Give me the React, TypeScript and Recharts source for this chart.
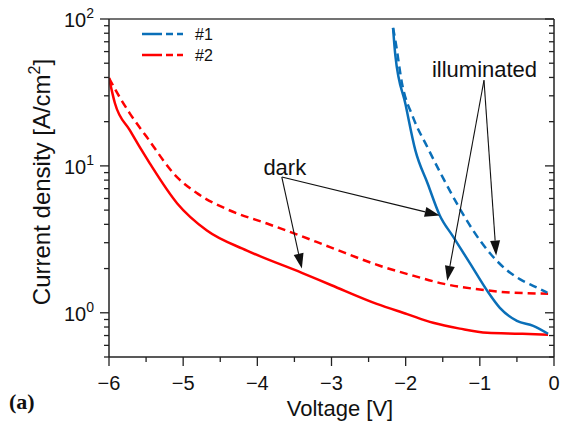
import React from "react";
import {
  LineChart,
  Line,
  XAxis,
  YAxis,
  Legend,
  ReferenceLine,
  ReferenceDot,
} from "recharts";

// #1 dark (solid blue)
const V_1_DARK = [-2.17, -2.14, -2.0, -1.87, -1.7, -1.54, -1.36, -1.13, -0.9, -0.73, -0.5, -0.28, -0.08];
const J_1_DARK = [87, 57, 26, 12.8, 7.5, 4.6, 3.3, 2.16, 1.41, 1.08, 0.88, 0.815, 0.72];

// #1 illuminated (dashed blue)
const V_1_ILL = [-2.17, -2.14, -2.05, -1.9, -1.7, -1.5, -1.31, -1.09, -0.86, -0.63, -0.42, -0.25, -0.09];
const J_1_ILL = [87, 72, 36.6, 21.4, 13.2, 8.35, 5.55, 3.63, 2.53, 1.94, 1.65, 1.5, 1.37];

// #2 dark (solid red)
const V_2_DARK = [-6, -5.92, -5.72, -5.45, -5.08, -4.68, -4.14, -3.4, -3.0, -2.39, -1.98, -1.63, -1.27, -0.9, -0.46, -0.08];
const J_2_DARK = [39.6, 26.7, 17.5, 10.4, 5.55, 3.63, 2.65, 1.87, 1.54, 1.15, 0.98, 0.855, 0.78, 0.73, 0.72, 0.71];

// #2 illuminated (dashed red)
const V_2_ILL = [-6, -5.85, -5.72, -5.49, -5.08, -4.81, -4.37, -3.87, -3.47, -3.02, -2.35, -1.9, -1.5, -1.0, -0.55, -0.08];
const J_2_ILL = [39.6, 29, 22.8, 15.7, 8.35, 6.5, 4.97, 4.05, 3.42, 2.8, 2.09, 1.79, 1.58, 1.44, 1.37, 1.35];

const X_TICKS = [-6, -5.5, -5, -4.5, -4, -3.5, -3, -2.5, -2, -1.5, -1, -0.5, 0];
const Y_TICKS = [0.5, 0.6, 0.7, 0.8, 0.9, 1, 2, 3, 4, 5, 6, 7, 8, 9, 10, 20, 30, 40, 50, 60, 70, 80, 90, 100];
const LEGEND_NAMES = ["#1", "#2"];

// annotation anchors (data coords)
const DARK_LABEL = { x: -3.63, y: 9.8, text: "dark" };
const DARK_FROM = { x: -3.67, y: 8.4 };
const DARK_TIPS = [
  { x: -3.4, y: 2.0 },
  { x: -1.54, y: 4.6 },
];
const ILL_LABEL = { x: -0.937, y: 45.6, text: "illuminated" };
const ILL_FROM = { x: -0.944, y: 38.3 };
const ILL_TIPS = [
  { x: -1.44, y: 1.65 },
  { x: -0.78, y: 2.45 },
];

const zip = (xs: number[], ys: number[]) => xs.map((v, i) => ({ v, j: ys[i] }));

const BLUE = "#0a6fb8";
const RED = "#ff0000";
const AXIS = "#222";
const FONT = "'Liberation Sans', Arial, sans-serif";

const W = 571;
const H = 425;
const PLOT_LEFT = 109;
const PLOT_RIGHT = 554;
const PLOT_TOP = 19;
const PLOT_BOTTOM = 357;

const isMajorY = (v: number) => Math.abs(Math.log10(v) - Math.round(Math.log10(v))) < 1e-6;

function LeftTick(props: any) {
  const { y, payload } = props;
  const v = payload.value;
  const major = isMajorY(v);
  const len = major ? 9 : 5;
  return (
    <g>
      <line x1={PLOT_LEFT - len} x2={PLOT_LEFT} y1={y} y2={y} stroke={AXIS} strokeWidth={1.3} />
      {major && (
        <text x={PLOT_LEFT - 15} y={y + 8} textAnchor="end" fontSize={20} fill="#111" fontFamily={FONT}>
          <tspan>10</tspan>
          <tspan dy={-9} fontSize={14}>
            {Math.round(Math.log10(v))}
          </tspan>
        </text>
      )}
    </g>
  );
}

function RightTick(props: any) {
  const { y, payload } = props;
  const len = isMajorY(payload.value) ? 9 : 5;
  return <line x1={PLOT_RIGHT - len} x2={PLOT_RIGHT} y1={y} y2={y} stroke={AXIS} strokeWidth={1.3} />;
}

function BottomTick(props: any) {
  const { x, payload } = props;
  const v = payload.value;
  const major = Number.isInteger(v);
  const len = major ? 9 : 5;
  return (
    <g>
      <line x1={x} x2={x} y1={PLOT_BOTTOM} y2={PLOT_BOTTOM + len} stroke={AXIS} strokeWidth={1.3} />
      {major && (
        <text x={x} y={PLOT_BOTTOM + 33} textAnchor="middle" fontSize={20} fill="#111" fontFamily={FONT}>
          {v < 0 ? `\u2212${Math.abs(v)}` : `${v}`}
        </text>
      )}
    </g>
  );
}

function XTitle() {
  return (
    <g>
      <text x={340} y={416} textAnchor="middle" fontSize={22} fill="#111" fontFamily={FONT}>
        Voltage [V]
      </text>
      <text x={9} y={409} fontSize={22} fontWeight="bold" fill="#111" fontFamily="'Liberation Serif', 'Times New Roman', serif">
        (a)
      </text>
    </g>
  );
}

function YTitle() {
  return (
    <text
      x={50}
      y={182}
      transform="rotate(-90 50 182)"
      textAnchor="middle"
      fontSize={24}
      fill="#111"
      fontFamily={FONT}
    >
      <tspan>Current density [A/cm</tspan>
      <tspan dy={-10} fontSize={16}>2</tspan>
      <tspan dy={10}>]</tspan>
    </text>
  );
}

function Arrow(props: any) {
  const { x1, y1, x2, y2 } = props;
  if ([x1, y1, x2, y2].some((n) => n == null || Number.isNaN(n))) return null;
  const dx = x2 - x1;
  const dy = y2 - y1;
  const L = Math.hypot(dx, dy) || 1;
  const ux = dx / L;
  const uy = dy / L;
  const hl = 15;
  const hw = 5;
  const bx = x2 - ux * hl;
  const by = y2 - uy * hl;
  const pts = `${x2},${y2} ${bx - uy * hw},${by + ux * hw} ${bx + uy * hw},${by - ux * hw}`;
  return (
    <g>
      <line x1={x1} y1={y1} x2={bx} y2={by} stroke="#111" strokeWidth={1.1} />
      <polygon points={pts} fill="#111" />
    </g>
  );
}

function LegendBox() {
  const colors = [BLUE, RED];
  return (
    <svg width={80} height={44} style={{ display: "block" }}>
      {LEGEND_NAMES.map((name, i) => (
        <g key={name}>
          <line
            x1={4}
            x2={45}
            y1={12 + i * 21}
            y2={12 + i * 21}
            stroke={colors[i]}
            strokeWidth={2.5}
            strokeDasharray="20 4 7 4 7"
          />
          <text x={57} y={18 + i * 21} fontSize={16} fill="#111" fontFamily={FONT}>
            {name}
          </text>
        </g>
      ))}
    </svg>
  );
}

export default function App() {
  return (
    <div style={{ position: "absolute", left: 0, top: 0, width: W, height: H, background: "#fff" }}>
      <LineChart
        width={W}
        height={H}
        margin={{ top: 0, right: 0, bottom: 0, left: 0 }}
        style={{ fontFamily: FONT }}
      >
        <XAxis
          xAxisId="bottom"
          type="number"
          dataKey="v"
          domain={[-6, 0]}
          allowDataOverflow
          ticks={X_TICKS}
          interval={0}
          height={H - PLOT_BOTTOM}
          tickLine={false}
          tick={<BottomTick />}
          axisLine={{ stroke: AXIS, strokeWidth: 1.5 }}
          label={<XTitle />}
        />
        <XAxis
          xAxisId="top"
          orientation="top"
          type="number"
          domain={[-6, 0]}
          allowDataOverflow
          height={PLOT_TOP}
          tick={false}
          tickLine={false}
          axisLine={{ stroke: "#444", strokeWidth: 1.5 }}
        />
        <YAxis
          yAxisId="left"
          scale="log"
          type="number"
          domain={[0.5, 100]}
          allowDataOverflow
          ticks={Y_TICKS}
          interval={0}
          width={PLOT_LEFT}
          tickLine={false}
          tick={<LeftTick />}
          axisLine={{ stroke: AXIS, strokeWidth: 1.5 }}
          label={<YTitle />}
        />
        <YAxis
          yAxisId="right"
          orientation="right"
          scale="log"
          type="number"
          domain={[0.5, 100]}
          allowDataOverflow
          ticks={Y_TICKS}
          interval={0}
          width={W - PLOT_RIGHT}
          tickLine={false}
          tick={<RightTick />}
          axisLine={{ stroke: AXIS, strokeWidth: 1.5 }}
        />
        <Legend
          verticalAlign="middle"
          layout="horizontal"
          content={<LegendBox />}
          wrapperStyle={{ top: 22, left: 138, width: 80, height: 44 }}
        />
        <Line
          xAxisId="bottom"
          yAxisId="left"
          data={zip(V_2_ILL, J_2_ILL)}
          dataKey="j"
          type="monotone"
          stroke={RED}
          strokeWidth={2.5}
          strokeDasharray="8 5"
          dot={false}
          isAnimationActive={false}
        />
        <Line
          xAxisId="bottom"
          yAxisId="left"
          data={zip(V_2_DARK, J_2_DARK)}
          dataKey="j"
          type="monotone"
          stroke={RED}
          strokeWidth={2.5}
          dot={false}
          isAnimationActive={false}
        />
        <Line
          xAxisId="bottom"
          yAxisId="left"
          data={zip(V_1_ILL, J_1_ILL)}
          dataKey="j"
          type="monotone"
          stroke={BLUE}
          strokeWidth={2.5}
          strokeDasharray="8 5"
          dot={false}
          isAnimationActive={false}
        />
        <Line
          xAxisId="bottom"
          yAxisId="left"
          data={zip(V_1_DARK, J_1_DARK)}
          dataKey="j"
          type="monotone"
          stroke={BLUE}
          strokeWidth={2.5}
          dot={false}
          isAnimationActive={false}
        />
        {DARK_TIPS.map((tip, i) => (
          <ReferenceLine
            key={`d${i}`}
            xAxisId="bottom"
            yAxisId="left"
            segment={[DARK_FROM, tip]}
            shape={<Arrow />}
          />
        ))}
        {ILL_TIPS.map((tip, i) => (
          <ReferenceLine
            key={`i${i}`}
            xAxisId="bottom"
            yAxisId="left"
            segment={[ILL_FROM, tip]}
            shape={<Arrow />}
          />
        ))}
        {[DARK_LABEL, ILL_LABEL].map((lb) => (
          <ReferenceDot
            key={lb.text}
            xAxisId="bottom"
            yAxisId="left"
            x={lb.x}
            y={lb.y}
            r={0}
            fill="none"
            stroke="none"
            label={{ value: lb.text, position: "center", fontSize: 22, fill: "#111" }}
          />
        ))}
      </LineChart>
    </div>
  );
}
